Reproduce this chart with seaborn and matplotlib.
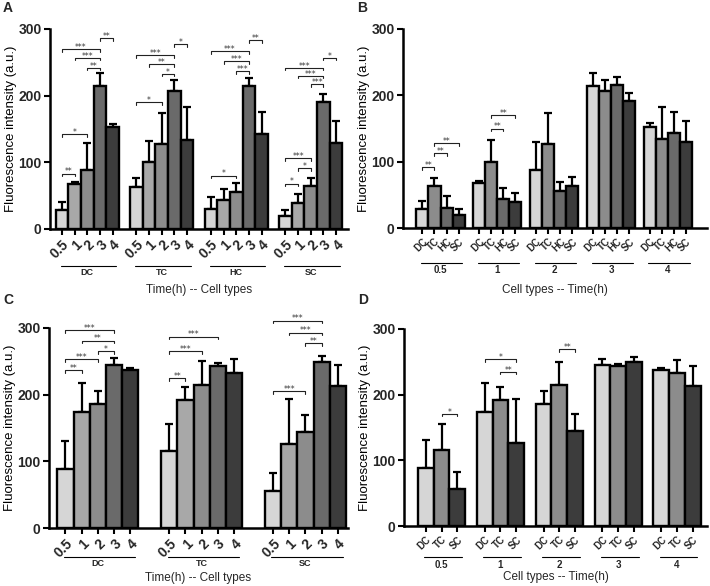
import numpy as np
import pandas as pd
import seaborn as sns
import matplotlib.pyplot as plt
from matplotlib.transforms import blended_transform_factory

# ---------------- data ----------------
times = ["0.5", "1", "2", "3", "4"]
cells4 = ["DC", "TC", "HC", "SC"]
cells3 = ["DC", "TC", "SC"]

# experiment 1 (panels A and B): mean per cell type over time, and upper SD
ab_mean = {
    "DC": [28, 68, 88, 214, 153],
    "TC": [63, 100, 127, 207, 134],
    "HC": [30, 43, 56, 215, 143],
    "SC": [19, 39, 64, 191, 129],
}
ab_err = {
    "DC": [12, 3, 41, 20, 5],
    "TC": [13, 32, 47, 16, 49],
    "HC": [18, 17, 13, 12, 32],
    "SC": [9, 14, 13, 12, 33],
}
# experiment 2 (panels C and D)
cd_mean = {
    "DC": [89, 174, 186, 245, 237],
    "TC": [115, 192, 215, 243, 233],
    "SC": [56, 126, 144, 249, 213],
}
cd_err = {
    "DC": [42, 44, 19, 10, 3],
    "TC": [41, 20, 35, 4, 20],
    "SC": [26, 67, 26, 9, 31],
}

# significance brackets: (group index, bar i, bar j, height, label)
sig_A = [(0, 0, 3, 270, "***"), (0, 3, 4, 286, "**"), (0, 1, 3, 257, "***"), (0, 2, 3, 242, "**"),
         (0, 0, 2, 142, "*"), (0, 0, 1, 83, "**"),
         (1, 0, 3, 261, "***"), (1, 3, 4, 277, "*"), (1, 1, 3, 247, "**"), (1, 2, 3, 233, "*"),
         (1, 0, 2, 190, "*"),
         (2, 0, 3, 267, "***"), (2, 3, 4, 283, "**"), (2, 1, 3, 252, "***"), (2, 2, 3, 237, "***"),
         (2, 0, 2, 80, "*"),
         (3, 0, 3, 242, "***"), (3, 3, 4, 257, "*"), (3, 1, 3, 230, "***"), (3, 2, 3, 217, "***"),
         (3, 0, 2, 106, "***"), (3, 1, 2, 91, "*"), (3, 0, 1, 68, "*")]
sig_B = [(0, 0, 1, 92, "**"), (0, 1, 2, 113, "**"), (0, 1, 3, 128, "**"),
         (1, 1, 2, 150, "**"), (1, 1, 3, 170, "**")]
sig_C = [(0, 0, 3, 297, "***"), (0, 1, 3, 281, "**"), (0, 2, 3, 265, "*"), (0, 0, 2, 253, "***"),
         (0, 0, 1, 237, "**"),
         (1, 0, 3, 287, "***"), (1, 0, 2, 265, "***"), (1, 0, 1, 225, "**"),
         (2, 0, 3, 311, "***"), (2, 1, 3, 293, "***"), (2, 2, 3, 277, "**"), (2, 0, 2, 205, "***")]
sig_D = [(0, 1, 2, 171, "*"), (1, 0, 2, 254, "*"), (1, 1, 2, 235, "**"), (2, 1, 2, 269, "**")]

time_colors = {"0.5": "#d6d6d6", "1": "#a8a8a8", "2": "#8c8c8c", "3": "#6a6a6a", "4": "#3c3c3c"}
cell_colors = {"DC": "#d6d6d6", "TC": "#8c8c8c", "HC": "#6a6a6a", "SC": "#3c3c3c"}


def long_df(means, errs, cells):
    rows = []
    for c in cells:
        for t, m, e in zip(times, means[c], errs[c]):
            rows.append({"cell": c, "time": t, "mean": m, "err": e})
    return pd.DataFrame(rows)


df_ab = long_df(ab_mean, ab_err, cells4)
df_cd = long_df(cd_mean, cd_err, cells3)

# ---------------- style ----------------
sns.set_theme(style="ticks")
plt.rcParams['font.family'] = ['Liberation Sans', 'DejaVu Sans']
plt.rcParams['axes.linewidth'] = 1.8

W, H = 710, 586
fig = plt.figure(figsize=(W / 100, H / 100), dpi=100)


def rect(l, r, t, b):
    return [l / W, 1 - b / H, (r - l) / W, (b - t) / H]


def panel(ax, df, x, hue, order, hue_order, palette, width, xlim, sigs,
          tick_fs, grp_fs, xlabel, off_line, off_grp, off_xlabel, ax_h):
    sns.barplot(data=df, x=x, y="mean", hue=hue, order=order, hue_order=hue_order,
                palette=palette, width=width, dodge=True, edgecolor="black",
                linewidth=1.7, errorbar=None, legend=False, saturation=1, ax=ax)
    centers = []
    for j, h in enumerate(hue_order):
        cont = ax.containers[j]
        cs = []
        for i, g in enumerate(order):
            bar = cont[i]
            xc = bar.get_x() + bar.get_width() / 2
            cs.append(xc)
            sub = df[(df[x] == g) & (df[hue] == h)]
            e = float(sub["err"].iloc[0])
            ax.errorbar([xc], [bar.get_height()], yerr=[[0], [e]], fmt="none",
                        ecolor="black", elinewidth=1.6, capsize=3.2, capthick=1.6, zorder=0.5)
        centers.append(cs)
    ticks, labels = [], []
    for i, g in enumerate(order):
        for j, h in enumerate(hue_order):
            ticks.append(centers[j][i])
            labels.append(h)
    ax.set_xticks(ticks)
    ax.set_xticklabels(labels, rotation=45, ha="right", rotation_mode="anchor",
                       fontsize=tick_fs, fontweight="bold")
    ax.set_xlim(*xlim)
    ax.set_ylim(0, 300)
    ax.set_yticks([0, 100, 200, 300])
    ax.set_yticklabels(["0", "100", "200", "300"], fontsize=10, fontweight="bold")
    ax.tick_params(axis="both", length=4, width=1.5, color="black", pad=2)
    ax.set_ylabel("Fluorescence intensity (a.u.)", fontsize=9.5, labelpad=1, color="black")
    ax.set_xlabel("")
    sns.despine(ax=ax)
    for s in ("left", "bottom"):
        ax.spines[s].set_color("black")
        ax.spines[s].set_linewidth(1.8)
    tr = blended_transform_factory(ax.transData, ax.transAxes)
    bw = ax.containers[0][0].get_width()
    for i, g in enumerate(order):
        x1 = centers[0][i]
        x2 = centers[-1][i]
        yl = -off_line / ax_h
        ax.plot([x1 - 0.1 * bw, x2 + 0.3 * bw], [yl, yl], transform=tr, clip_on=False,
                color="black", lw=0.8)
        ax.text((x1 + x2) / 2, -off_grp / ax_h, g, transform=tr, ha="center", va="center",
                fontsize=grp_fs, fontweight="bold")
    ax.text(0.5, -off_xlabel / ax_h, xlabel, transform=ax.transAxes, ha="center",
            va="center", fontsize=8.5)
    for g, a, b, yv, lab in sigs:
        x1 = centers[a][g]
        x2 = centers[b][g]
        d = 4
        ax.plot([x1, x1, x2, x2], [yv - d, yv, yv, yv - d], color="#222222", lw=0.8,
                clip_on=False)
        ax.text((x1 + x2) / 2, yv + 2.5, lab, ha="center", va="center", fontsize=5.5,
                family=["DejaVu Sans"], color="#333333", clip_on=False)


axA = fig.add_axes(rect(50, 348, 29, 229))
panel(axA, df_ab, "cell", "time", cells4, times, time_colors, 0.85, (-0.5, 3.5), sig_A,
      10, 6.5, "Time(h) -- Cell types", 37, 44, 61, 200)

axB = fig.add_axes(rect(403, 707, 29, 228))
panel(axB, df_ab, "time", "cell", times, cells4, cell_colors, 0.85, (-0.66, 4.69), sig_B,
      7, 7, "Cell types -- Time(h)", 35, 42, 62, 199)

axC = fig.add_axes(rect(49, 348, 328, 528))
panel(axC, df_cd, "cell", "time", cells3, times, time_colors, 0.78, (-0.47, 2.41), sig_C,
      10, 6.5, "Time(h) -- Cell types", 29, 36, 50, 200)

axD = fig.add_axes(rect(404, 707, 329, 526))
panel(axD, df_cd, "time", "cell", times, cells3,
      {k: cell_colors[k] for k in cells3}, 0.8, (-0.64, 4.51), sig_D,
      7, 7, "Cell types -- Time(h)", 31, 39, 51, 197)

for lab, (px, py) in zip("ABCD", [(3, 8), (357, 8), (3, 300), (358, 300)]):
    fig.text(px / W, 1 - py / H, lab, fontsize=10, fontweight="bold", ha="left", va="center")

fig.savefig("out.png", dpi=100)
